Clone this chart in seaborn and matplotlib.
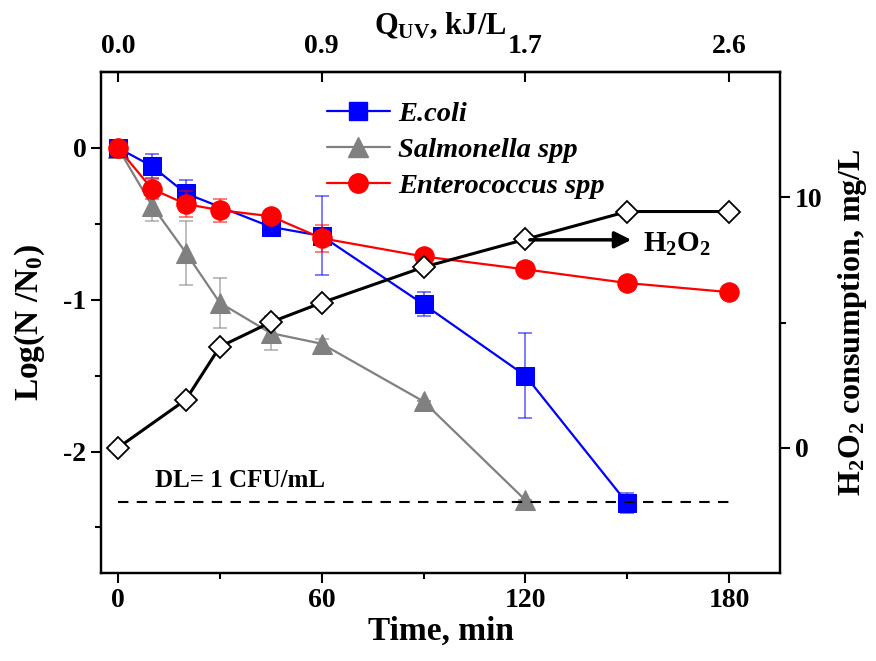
import matplotlib
matplotlib.use('Agg')
import matplotlib.pyplot as plt
import seaborn as sns
import pandas as pd
from matplotlib.lines import Line2D

# Log reduction data (time in min)
time_ecoli = [0, 10, 20, 45, 60, 90, 120, 150]
ecoli = [0, -0.12, -0.30, -0.52, -0.58, -1.03, -1.50, -2.34]
ecoli_err = [0.02, 0.08, 0.09, 0.03, 0.26, 0.08, 0.28, 0.065]

time_salm = [0, 10, 20, 30, 45, 60, 90, 120]
salm = [0, -0.38, -0.69, -1.02, -1.22, -1.29, -1.67, -2.32]
salm_err = [0.02, 0.10, 0.21, 0.165, 0.11, 0.03, 0.0, 0.0]

time_entero = [0, 10, 20, 30, 45, 60, 90, 120, 150, 180]
entero = [0, -0.27, -0.37, -0.41, -0.45, -0.595, -0.715, -0.80, -0.89, -0.95]
entero_err = [0.02, 0.066, 0.088, 0.075, 0.03, 0.09, 0.02, 0.04, 0.02, 0.02]

# H2O2 consumption, mg/L
time_h2o2 = [0, 20, 30, 45, 60, 90, 120, 150, 180]
h2o2 = [0, 1.92, 4.03, 5.01, 5.79, 7.21, 8.32, 9.43, 9.43]

# detection limit line
dl_x = [0, 180]
dl_y = -2.335

# top axis (UV dose)
top_ticks = [0, 60, 120, 180]
top_labels = ['0.0', '0.9', '1.7', '2.6']

sns.set_style('ticks')
plt.rcParams['font.family'] = ['Liberation Serif', 'DejaVu Serif']
plt.rcParams['font.weight'] = 'bold'
plt.rcParams['axes.labelweight'] = 'bold'
plt.rcParams['axes.unicode_minus'] = False
for k in ['text.color', 'axes.labelcolor', 'xtick.color', 'ytick.color', 'axes.edgecolor']:
    plt.rcParams[k] = 'black'
plt.rcParams['mathtext.fontset'] = 'custom'
plt.rcParams['mathtext.rm'] = 'Liberation Serif:bold'
plt.rcParams['mathtext.bf'] = 'Liberation Serif:bold'
plt.rcParams['mathtext.it'] = 'Liberation Serif:bold'
plt.rcParams['mathtext.default'] = 'bf'

fig = plt.figure(figsize=(8.76, 6.61), dpi=100)
ax = fig.add_axes([101/876, 1-573/661, (780-101)/876, (573-72)/661])

dfE = pd.DataFrame({'t': time_ecoli, 'v': ecoli})
dfS = pd.DataFrame({'t': time_salm, 'v': salm})
dfN = pd.DataFrame({'t': time_entero, 'v': entero})

series = [
    (dfS, salm_err, 'gray', '^', 14, 'Salmonella spp'),
    (dfE, ecoli_err, 'blue', 's', 12.5, 'E.coli'),
    (dfN, entero_err, 'red', 'o', 14, 'Enterococcus spp'),
]
for d, err, col, mk, ms, lab in series:
    ax.errorbar(d['t'], d['v'], yerr=err, fmt='none', ecolor=col, alpha=0.6,
                elinewidth=1.2, capsize=5, capthick=1.2)
    sns.lineplot(data=d, x='t', y='v', ax=ax, color=col, marker=mk, markersize=ms,
                 markeredgecolor=col, linewidth=1.6, legend=False)

ax.plot(dl_x, [dl_y, dl_y], color='k', linestyle=(0, (5, 4)), linewidth=1.5)
ax.text(11, -2.19, 'DL= 1 CFU/mL', fontsize=18, fontweight='bold', va='center')

ax.set_xlim(-5, 195)
ax.set_ylim(-2.8, 0.5)
ax.set_xticks([0, 60, 120, 180])
ax.set_xticks([30, 90, 150], minor=True)
ax.set_yticks([-2, -1, 0])
ax.set_yticks([-2.5, -1.5, -0.5], minor=True)
ax.set_xlabel('Time, min', fontsize=24, labelpad=2)
ax.set_ylabel('Log(N /N$_0$)', fontsize=24, labelpad=12)
ax.tick_params(which='major', length=7, width=1.5, labelsize=20)
ax.tick_params(which='minor', length=4, width=1.5)
for s in ax.spines.values():
    s.set_linewidth(1.6)

# H2O2 on right axis
ax2 = ax.twinx()
dfH = pd.DataFrame({'t': time_h2o2, 'v': h2o2})
sns.lineplot(data=dfH, x='t', y='v', ax=ax2, color='black', marker='D', markersize=11.5,
             markerfacecolor='white', markeredgecolor='black', markeredgewidth=1.3,
             linewidth=2.2, legend=False)
ax2.set_ylim(-5, 15)
ax2.set_yticks([0, 10])
ax2.set_yticks([5], minor=True)
ax2.set_ylabel('H$_2$O$_2$ consumption, mg/L', fontsize=23, labelpad=10)
ax2.tick_params(which='major', length=7, width=1.5, labelsize=20)
ax2.tick_params(which='minor', length=4, width=1.5)
for s in ax2.spines.values():
    s.set_linewidth(1.6)
ax2.annotate('', xy=(152, 8.3), xytext=(120.5, 8.3),
             arrowprops=dict(arrowstyle='-|>', color='k', lw=2.5, mutation_scale=25))
ax2.text(154.5, 8.1, 'H$_2$O$_2$', fontsize=21, va='center')

# top axis
top = ax.secondary_xaxis('top')
top.set_xticks(top_ticks)
top.set_xticklabels(top_labels)
top.tick_params(direction='in', length=7, width=1.5, labelsize=20, pad=9)
top.set_xlabel('Q$_{UV}$, kJ/L', fontsize=22, labelpad=0)
top.spines['top'].set_linewidth(1.6)

handles = [
    Line2D([], [], color='blue', marker='s', markersize=12.5, linewidth=1.6),
    Line2D([], [], color='gray', marker='^', markersize=14, linewidth=1.6),
    Line2D([], [], color='red', marker='o', markersize=14, linewidth=1.6),
]
leg = ax2.legend(handles, ['E.coli', 'Salmonella spp', 'Enterococcus spp'],
                 loc='upper left', bbox_to_anchor=(327/876, 1-101/661),
                 bbox_transform=fig.transFigure, frameon=False,
                 prop={'size': 20.5, 'style': 'italic', 'weight': 'bold'},
                 handlelength=2.2, handletextpad=0.3, labelspacing=0.35,
                 borderaxespad=0, borderpad=0)

fig.savefig('out.png', dpi=100)
